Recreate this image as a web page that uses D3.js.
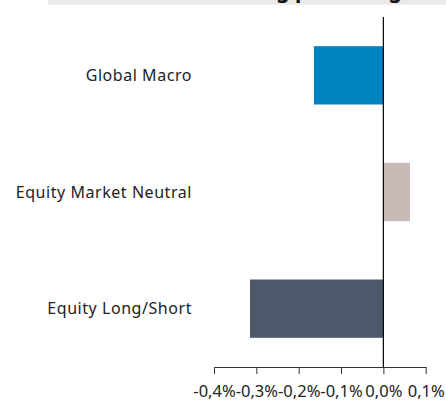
<!DOCTYPE html>
<html>
<head>
<meta charset="utf-8">
<script src="https://cdn.jsdelivr.net/npm/d3@7"></script>
<style>
  body { margin: 0; background: #fff; }
  svg { display: block; font-family: "Noto Sans", sans-serif; }
</style>
</head>
<body>
<div id="chart"></div>
<script>
var categories = ["Global Macro", "Equity Market Neutral", "Equity Long/Short"];
var values = [-0.164, 0.063, -0.315];
var colors = ["#0083c0", "#c5bab5", "#4d596b"];
var tickValues = [-0.4, -0.3, -0.2, -0.1, 0.0, 0.1];
var titleText = "Contribution to trailing percentage";

var width = 446, height = 410;
var plotLeft = 214, plotRight = 425.7, plotTop = 17, plotBottom = 367;

var svg = d3.select("#chart").append("svg")
    .attr("width", width)
    .attr("height", height);

// title strip, mostly cut off above the frame
svg.append("rect")
    .attr("x", 48).attr("y", -30)
    .attr("width", width - 48).attr("height", 34.7)
    .attr("fill", "#ece8e6");
var title = svg.append("text")
    .attr("x", 0).attr("y", -2)
    .style("font-weight", "bold")
    .style("font-size", "21px")
    .attr("fill", "#111")
    .text(titleText);
// line the word "percentage" up with where it sits in the picture
var pIdx = titleText.indexOf("percentage");
var pPos = title.node().getStartPositionOfChar(pIdx).x;
title.attr("x", 295 - pPos);

var x = d3.scaleLinear().domain([-0.4, 0.1]).range([plotLeft, plotRight]);
var y = d3.scaleBand().domain(categories).range([plotTop, plotBottom])
    .paddingInner(0.5).paddingOuter(0.25);

svg.selectAll("rect.bar")
    .data(values)
    .enter()
    .append("rect")
    .attr("class", "bar")
    .attr("x", function(d){ return x(Math.min(0, d)); })
    .attr("y", function(d, i){ return y(categories[i]); })
    .attr("width", function(d){ return Math.abs(x(d) - x(0)); })
    .attr("height", y.bandwidth())
    .attr("fill", function(d, i){ return colors[i]; });

// category labels
svg.selectAll("text.cat")
    .data(categories)
    .enter()
    .append("text")
    .attr("class", "cat")
    .attr("x", 192)
    .attr("y", function(d){ return y(d) + y.bandwidth() / 2; })
    .attr("dy", "0.35em")
    .attr("text-anchor", "end")
    .style("font-size", "16px")
    .style("letter-spacing", "0.55px")
    .attr("fill", "#222")
    .text(function(d){ return d; });

// zero line
svg.append("line")
    .attr("x1", x(0)).attr("x2", x(0))
    .attr("y1", plotTop).attr("y2", plotBottom)
    .attr("stroke", "#000")
    .attr("stroke-width", 1.2);

// bottom axis
var fmt = function(d){ return d.toFixed(1).replace(".", ",") + "%"; };
var axis = svg.append("g")
    .attr("transform", "translate(0," + plotBottom + ")")
    .call(d3.axisBottom(x).tickValues(tickValues).tickFormat(fmt).tickSize(7).tickSizeOuter(0).tickPadding(11));
axis.select(".domain").attr("stroke", "#333");
axis.selectAll(".tick line").attr("stroke", "#333");
axis.selectAll("text")
    .style("font-size", "16.5px")
    .style("font-family", "Noto Sans, sans-serif")
    .attr("fill", "#222");
</script>
</body>
</html>
